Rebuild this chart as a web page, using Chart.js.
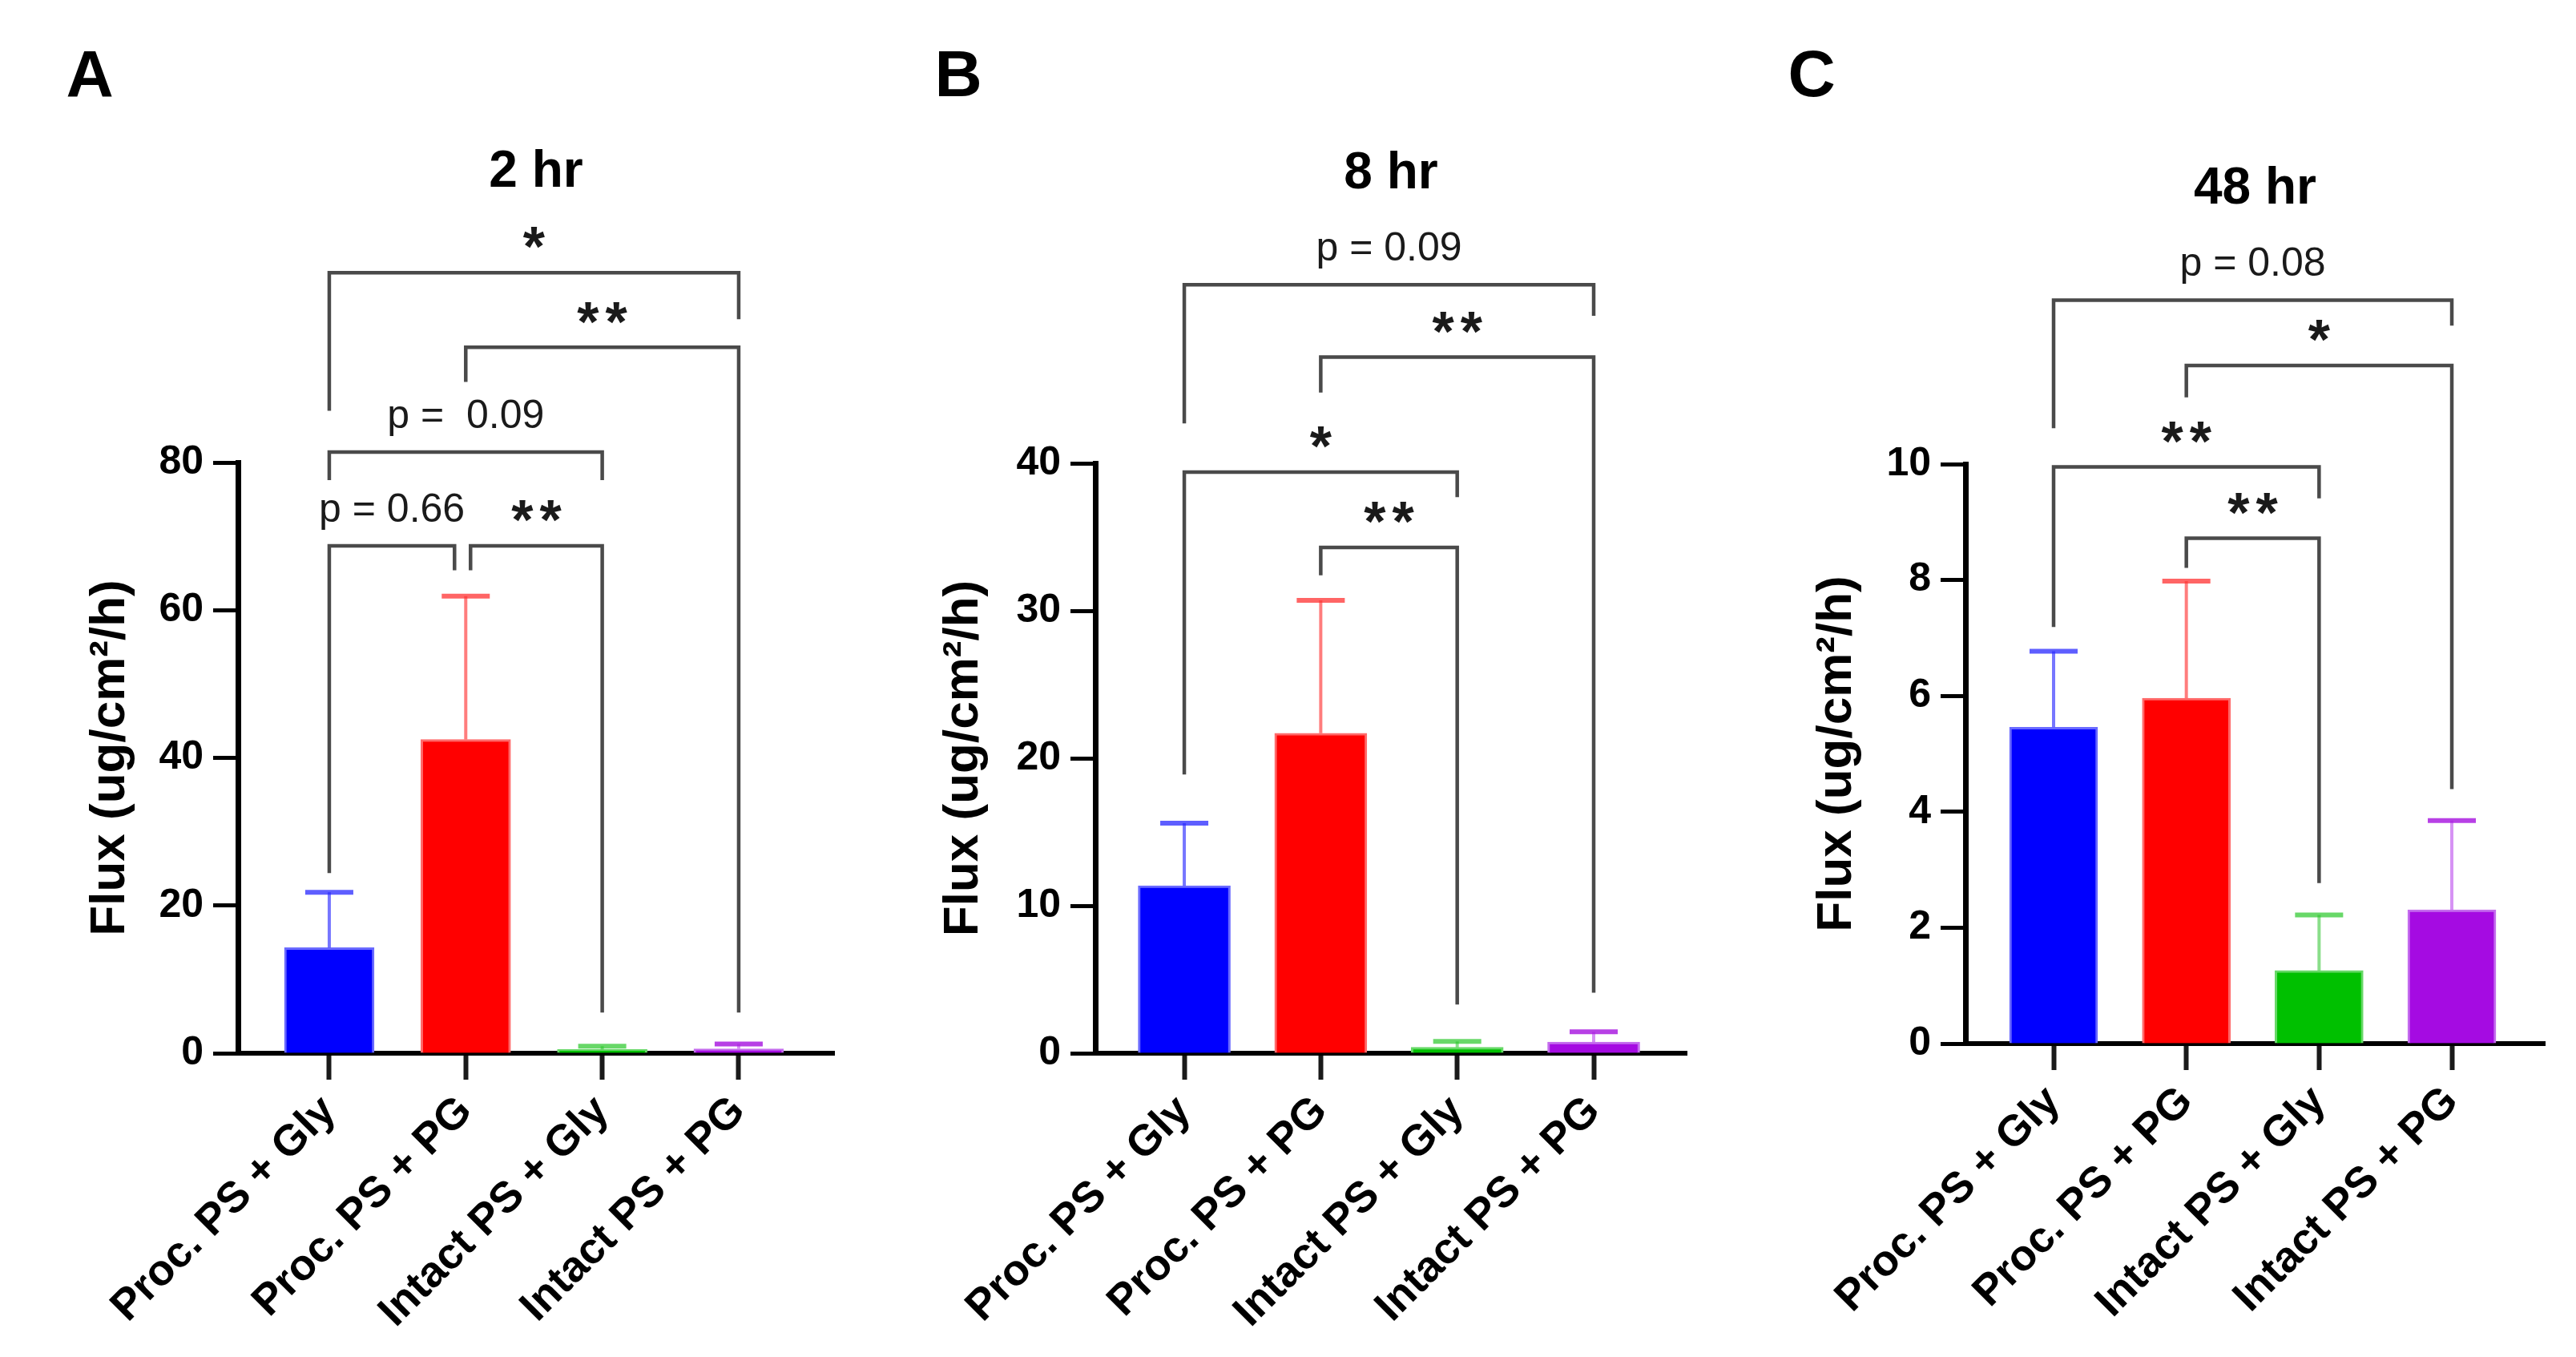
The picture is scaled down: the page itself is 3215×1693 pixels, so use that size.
<!DOCTYPE html>
<html>
<head>
<meta charset="utf-8">
<script src="https://cdn.jsdelivr.net/npm/chart.js@4.4.1/dist/chart.umd.min.js"></script>
<style>
  html, body { margin: 0; padding: 0; background: #ffffff; }
  body { width: 3215px; height: 1693px; overflow: hidden; position: relative; }
  .panel { position: absolute; top: 0; height: 1693px; }
</style>
</head>
<body>
<div class="panel" style="left:0px;width:1070px"><canvas id="cA"></canvas></div>
<div class="panel" style="left:1070px;width:1070px"><canvas id="cB"></canvas></div>
<div class="panel" style="left:2140px;width:1075px"><canvas id="cC"></canvas></div>
<script>
// ---------------- DATA ----------------
const categories = ['Proc. PS + Gly', 'Proc. PS + PG', 'Intact PS + Gly', 'Intact PS + PG'];
const panelLetters = ['A', 'B', 'C'];
const panelTitles = ['2 hr', '8 hr', '48 hr'];
const yAxisTitle = 'Flux (ug/cm\u00B2/h)';

// mean flux and SD (upper error bar) per group
const mean2h  = [14.3, 42.5, 0.5, 0.6];
const sd2h    = [7.5, 19.4, 0.45, 0.65];
const mean8h  = [11.35, 21.7, 0.4, 0.75];
const sd8h    = [4.25, 9.0, 0.4, 0.7];
const mean48h = [5.46, 5.96, 1.26, 2.31];
const sd48h   = [1.31, 2.02, 0.96, 1.54];

const yTicks2h  = [0, 20, 40, 60, 80];
const yTicks8h  = [0, 10, 20, 30, 40];
const yTicks48h = [0, 2, 4, 6, 8, 10];

// significance comparisons: groups compared, label, bracket height and leg ends (in flux units)
const compare2h = [
  { from: 0, to: 3, label: '*',         y: 105.7, yFrom: 87.0, yTo: 99.4 },
  { from: 1, to: 3, label: '**',        y: 95.6,  yFrom: 90.9, yTo: 5.5 },
  { from: 0, to: 2, label: 'p =  0.09', y: 81.4,  yFrom: 77.6, yTo: 77.6 },
  { from: 0, to: 1, label: 'p = 0.66',  y: 68.7,  yFrom: 24.4, yTo: 65.4, dxTo: -14 },
  { from: 1, to: 2, label: '**',        y: 68.7,  yFrom: 65.4, yTo: 5.5, dxFrom: 6 }
];
const compare8h = [
  { from: 0, to: 3, label: 'p = 0.09', y: 52.1, yFrom: 42.7, yTo: 50.0 },
  { from: 1, to: 3, label: '**',       y: 47.2, yFrom: 44.8, yTo: 4.1 },
  { from: 0, to: 2, label: '*',        y: 39.4, yFrom: 18.9, yTo: 37.7 },
  { from: 1, to: 2, label: '**',       y: 34.3, yFrom: 32.4, yTo: 3.3 }
];
const compare48h = [
  { from: 0, to: 3, label: 'p = 0.08', y: 12.83, yFrom: 10.62, yTo: 12.39 },
  { from: 1, to: 3, label: '*',        y: 11.70, yFrom: 11.15, yTo: 4.39 },
  { from: 0, to: 2, label: '**',       y: 9.95,  yFrom: 7.19,  yTo: 9.41 },
  { from: 1, to: 2, label: '**',       y: 8.72,  yFrom: 8.21,  yTo: 2.77 }
];

// ---------------- STYLE ----------------
const FONT = '"Liberation Sans", Arial, Helvetica, sans-serif';
const barColors  = ['#0000ff', '#ff0000', '#00c000', '#a50be2'];
const barEdges   = ['#6a6aff', '#ff6a6a', '#66d866', '#c46cee'];
const errLine    = ['rgba(60,60,255,0.7)', 'rgba(255,70,70,0.7)', 'rgba(60,200,60,0.6)', 'rgba(200,110,240,0.75)'];
const errCap     = ['rgba(40,40,255,0.75)', 'rgba(255,50,50,0.75)', 'rgba(40,200,40,0.7)', 'rgba(170,30,225,0.85)'];

const panels = [
  { id: 'cA', letter: panelLetters[0], title: panelTitles[0], mean: mean2h, sd: sd2h, ticks: yTicks2h, cmp: compare2h,
    yWidth: 297, titlePad: 101, padRight: 29, top: 577, bottom: 1314, xMin: -0.669, xMax: 3.699, barW: 112,
    letterPos: [112, 90], titleY: 210 },
  { id: 'cB', letter: panelLetters[1], title: panelTitles[1], mean: mean8h, sd: sd8h, ticks: yTicks8h, cmp: compare8h,
    yWidth: 297, titlePad: 96, padRight: 35, top: 578, bottom: 1314, xMin: -0.652, xMax: 3.681, barW: 115,
    letterPos: [126, 90], titleY: 212 },
  { id: 'cC', letter: panelLetters[2], title: panelTitles[2], mean: mean48h, sd: sd48h, ticks: yTicks48h, cmp: compare48h,
    yWidth: 313, titlePad: 116, padRight: 39, top: 579, bottom: 1302, xMin: -0.664, xMax: 3.700, barW: 110,
    letterPos: [121, 90], titleY: 231 }
];

function extrasPlugin(p) {
  return {
    id: 'extras_' + p.id,
    afterDraw(chart) {
      const ctx = chart.ctx;
      const xs = chart.scales.x, ys = chart.scales.y;
      const meta = chart.getDatasetMeta(0);
      ctx.save();
      // error bars (upper only)
      meta.data.forEach((el, i) => {
        const topPx = ys.getPixelForValue(p.mean[i] + p.sd[i]);
        ctx.lineCap = 'butt';
        ctx.strokeStyle = errLine[i];
        ctx.lineWidth = 4;
        ctx.beginPath();
        ctx.moveTo(el.x, el.y);
        ctx.lineTo(el.x, topPx);
        ctx.stroke();
        ctx.strokeStyle = errCap[i];
        ctx.lineWidth = 6;
        ctx.beginPath();
        ctx.moveTo(el.x - 30, topPx);
        ctx.lineTo(el.x + 30, topPx);
        ctx.stroke();
      });
      // significance brackets
      p.cmp.forEach(b => {
        const x1 = xs.getPixelForValue(b.from) + (b.dxFrom || 0);
        const x2 = xs.getPixelForValue(b.to) + (b.dxTo || 0);
        const y = ys.getPixelForValue(b.y);
        ctx.strokeStyle = '#4a4a4a';
        ctx.lineWidth = 4.5;
        ctx.lineJoin = 'miter';
        ctx.beginPath();
        ctx.moveTo(x1, ys.getPixelForValue(b.yFrom));
        ctx.lineTo(x1, y);
        ctx.lineTo(x2, y);
        ctx.lineTo(x2, ys.getPixelForValue(b.yTo));
        ctx.stroke();
        const cx = (x1 + x2) / 2;
        const cy = y - 48;
        ctx.fillStyle = '#1a1a1a';
        ctx.textAlign = 'center';
        ctx.textBaseline = 'alphabetic';
        if (b.label.startsWith('p')) {
          ctx.font = '50px ' + FONT;
          ctx.letterSpacing = '0px';
          ctx.fillText(b.label, cx, cy + 0.36 * 50);
        } else {
          const fs = 70;
          ctx.font = 'bold ' + fs + 'px ' + FONT;
          ctx.letterSpacing = '8px';
          ctx.fillText(b.label, cx + 4, cy + 0.575 * fs);
          ctx.letterSpacing = '0px';
        }
      });
      // panel title
      const area = chart.chartArea;
      ctx.fillStyle = '#000';
      ctx.textAlign = 'center';
      ctx.font = 'bold 64px ' + FONT;
      ctx.fillText(p.title, (area.left + area.right) / 2, p.titleY + 0.36 * 64);
      // panel letter
      ctx.font = 'bold 82px ' + FONT;
      ctx.fillText(p.letter, p.letterPos[0], p.letterPos[1] + 0.36 * 82);
      ctx.restore();
    }
  };
}

panels.forEach(p => {
  const ctx = document.getElementById(p.id);
  new Chart(ctx, {
    type: 'bar',
    data: {
      datasets: [{
        data: categories.map((c, i) => ({ x: i, y: p.mean[i] })),
        backgroundColor: barColors,
        borderColor: barEdges,
        borderWidth: 3,
        barThickness: p.barW
      }]
    },
    plugins: [extrasPlugin(p)],
    options: {
      responsive: true,
      maintainAspectRatio: false,
      devicePixelRatio: 1,
      animation: false,
      events: [],
      layout: { padding: { top: p.top, right: p.padRight, left: 0, bottom: 0 } },
      plugins: { legend: { display: false }, tooltip: { enabled: false }, title: { display: false } },
      scales: {
        x: {
          type: 'linear',
          offset: false,
          min: p.xMin,
          max: p.xMax,
          afterBuildTicks: s => { s.ticks = categories.map((c, i) => ({ value: i })); },
          afterFit: s => { s.height = 1693 - p.bottom; s.paddingLeft = 0; s.paddingRight = 0; },
          grid: { display: true, offset: false, drawOnChartArea: false, drawTicks: true, tickLength: 33, tickWidth: 6, tickColor: '#1a1a1a' },
          border: { display: true, color: '#000', width: 6 },
          ticks: {
            autoSkip: false, maxRotation: 45, minRotation: 45, padding: 8,
            color: '#000',
            font: { family: FONT, size: 54, weight: 'bold' },
            callback: v => categories[v]
          }
        },
        y: {
          min: p.ticks[0],
          max: p.ticks[p.ticks.length - 1],
          afterBuildTicks: s => { s.ticks = p.ticks.map(v => ({ value: v })); },
          afterFit: s => { s.width = p.yWidth; s.paddingTop = 0; s.paddingBottom = 0; },
          grid: { display: true, drawOnChartArea: false, drawTicks: true, tickLength: 31, tickWidth: 5, tickColor: '#000' },
          border: { display: true, color: '#000', width: 7 },
          ticks: { padding: 12, color: '#000', font: { family: FONT, size: 50, weight: 'bold' } },
          title: {
            display: true, text: yAxisTitle, color: '#000',
            font: { family: FONT, size: 62, weight: 'bold', lineHeight: 1.2 },
            padding: { top: p.titlePad, bottom: 0 }
          }
        }
      }
    }
  });
});
</script>
</body>
</html>
